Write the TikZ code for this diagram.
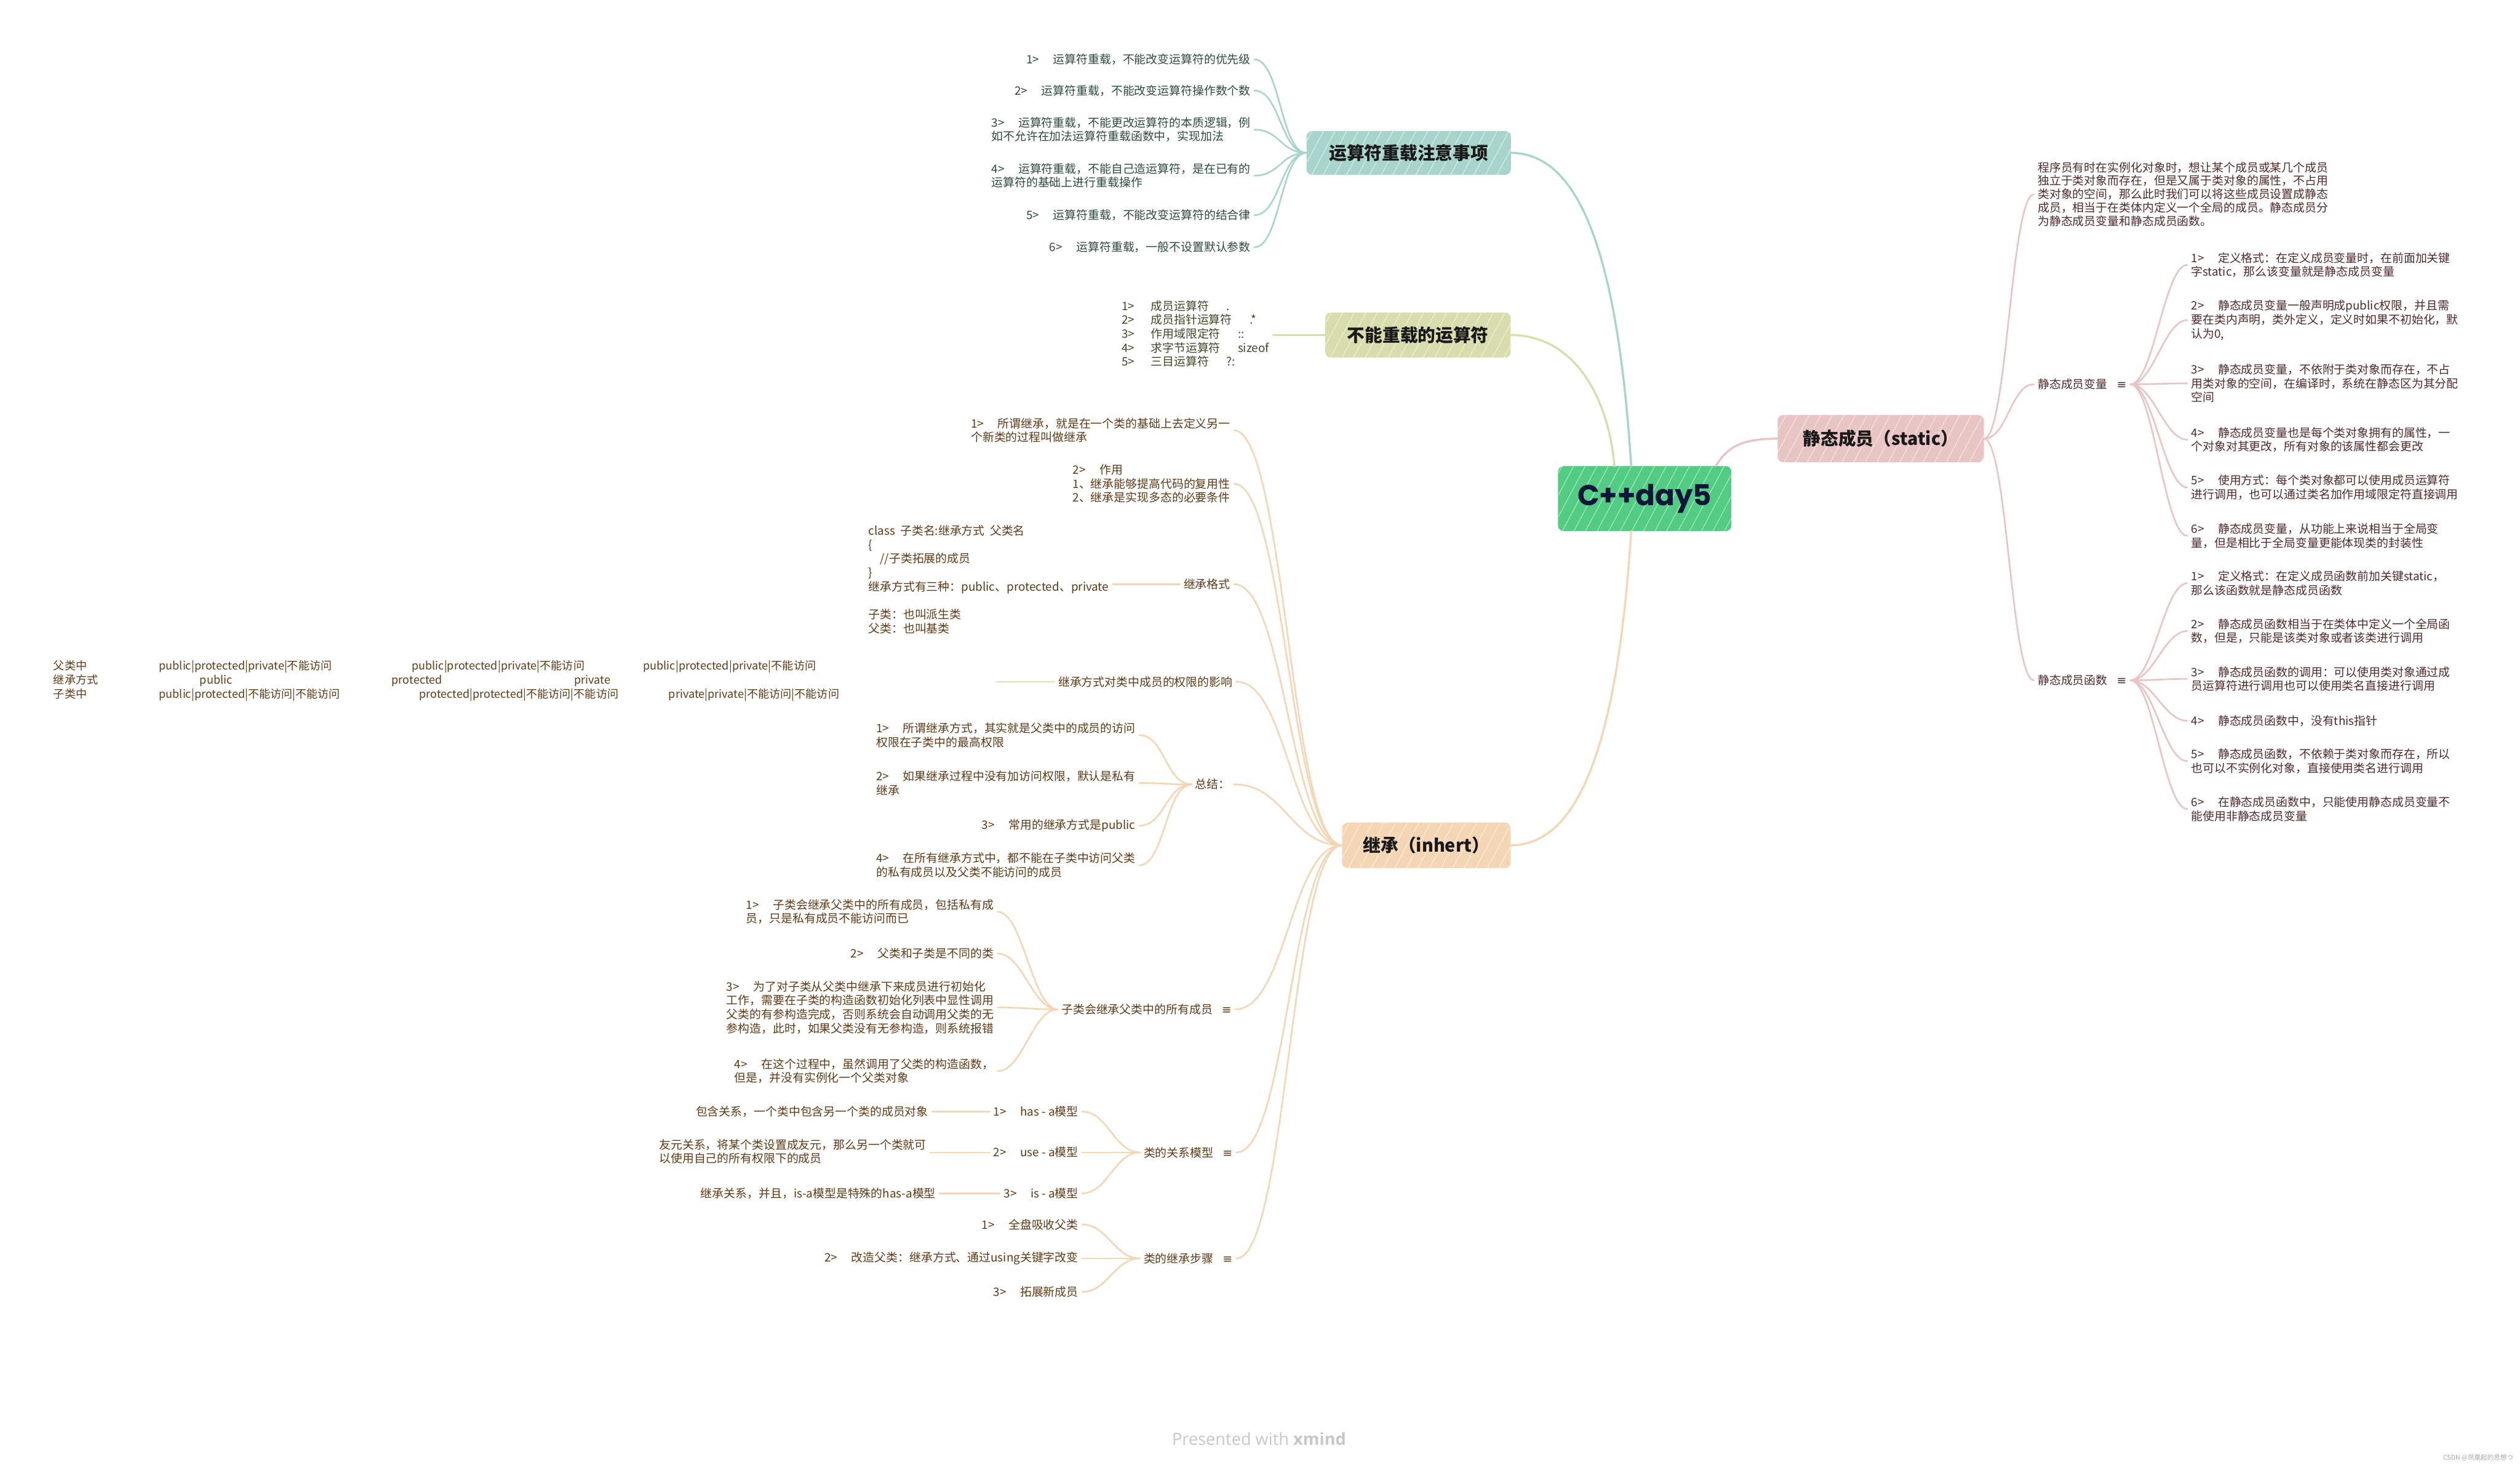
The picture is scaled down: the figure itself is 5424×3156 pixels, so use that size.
\documentclass[tikz,border=0pt]{standalone}
\usepackage{fontspec}
\setmainfont{Noto Sans CJK SC}
\newfontfamily\poppinsfont{Poppins}
\newfontfamily\dejavufont{DejaVu Sans}
\newfontfamily\opensansfont{Open Sans}
\usetikzlibrary{patterns.meta}
\definecolor{tealc}{HTML}{A8D5CB}
\definecolor{tealh}{HTML}{D6ECE7}
\definecolor{olivec}{HTML}{D9DDAE}
\definecolor{oliveh}{HTML}{ECEED6}
\definecolor{pinkc}{HTML}{E8C4C4}
\definecolor{pinkh}{HTML}{F4E1E1}
\definecolor{peachc}{HTML}{F4D5B4}
\definecolor{peachh}{HTML}{FAEBDB}
\definecolor{greenc}{HTML}{52CC83}
\definecolor{greenh}{HTML}{A5E6C0}
\definecolor{tealtxt}{HTML}{2E4A42}
\definecolor{olivetxt}{HTML}{45452A}
\definecolor{pinktxt}{HTML}{4F2A2A}
\definecolor{browntxt}{HTML}{5E3B16}
\definecolor{navytxt}{HTML}{10163A}
\newcommand\lgap{\hspace{1.2em}}
\newcommand\notesym{\hspace{0.8em}{\dejavufont ≡}}
\begin{document}
\begin{tikzpicture}[x=1pt,y=-1pt,
  hatch/.style={postaction={pattern={Lines[angle=62,distance=22pt,line width=1.6pt]},pattern color=#1}},
  topic/.style={rounded corners=12pt,minimum height=96pt,inner sep=0pt,
    font=\fontsize{38}{40}\selectfont\bfseries,text=black!90},
  leafbase/.style={font=\fontsize{25}{30}\selectfont,inner xsep=8pt,inner ysep=2pt,align=left},
  leafT/.style={leafbase,text=tealtxt},
  leafO/.style={leafbase,text=olivetxt},
  leafP/.style={leafbase,text=pinktxt},
  leafB/.style={leafbase,text=browntxt},
  cT/.style={draw=tealc,line width=3.5pt,line cap=round},
  cO/.style={draw=olivec,line width=3.5pt,line cap=round},
  cP/.style={draw=pinkc,line width=3.5pt,line cap=round},
  cB/.style={draw=peachc,line width=3.5pt,line cap=round},
  mainline/.style={line width=4.5pt}]
\useasboundingbox[fill=white] (0,0) rectangle (5424,3156);

% ---------- centre and topics ----------
\node[topic,fill=greenc,hatch=greenh,minimum width=373pt,minimum height=140pt,
  font=\poppinsfont\fontsize{62}{66}\selectfont\bfseries,text=navytxt] (c) at (3540,1073) {C++day5};
\node[topic,fill=tealc,hatch=tealh,minimum width=440pt,minimum height=94pt] (t1) at (3032,329) {运算符重载注意事项};
\node[topic,fill=olivec,hatch=oliveh,minimum width=399pt,minimum height=97pt] (t2) at (3052,721) {不能重载的运算符};
\node[topic,fill=pinkc,hatch=pinkh,minimum width=444pt,minimum height=102pt] (t3) at (4048,944) {静态成员（static）};
\node[topic,fill=peachc,hatch=peachh,minimum width=363pt,minimum height=98pt] (t4) at (3070,1819) {继承（inhert）};

\draw[cT,mainline] (t1.east) .. controls +(170,0) and +(-25,-380) .. ([xshift=-29pt]c.north);
\draw[cO,mainline] (t2.east) .. controls +(130,0) and +(-15,-160) .. ([xshift=-65pt]c.north);
\draw[cP,mainline] ([xshift=153pt]c.north) .. controls +(25,-40) and +(-80,0) .. (t3.west);
\draw[cB,mainline] ([xshift=-29pt]c.south) .. controls +(-25,380) and +(170,0) .. (t4.east);

% ---------- topic 1 ----------
\node[leafT,anchor=east] (a1) at (2700,128) {1>\lgap 运算符重载，不能改变运算符的优先级};
\node[leafT,anchor=east] (a2) at (2700,195) {2>\lgap 运算符重载，不能改变运算符操作数个数};
\node[leafT,anchor=east] (a3) at (2700,279) {3>\lgap 运算符重载，不能更改运算符的本质逻辑，例\\如不允许在加法运算符重载函数中，实现加法};
\node[leafT,anchor=east] (a4) at (2700,378) {4>\lgap 运算符重载，不能自己造运算符，是在已有的\\运算符的基础上进行重载操作};
\node[leafT,anchor=east] (a5) at (2700,463) {5>\lgap 运算符重载，不能改变运算符的结合律};
\node[leafT,anchor=east] (a6) at (2700,532) {6>\lgap 运算符重载，一般不设置默认参数};
\foreach \n in {a1,a2,a3,a4,a5,a6}
  \draw[cT] (\n.east) .. controls +(55,0) and +(-55,0) .. (t1.west);

% ---------- topic 2 ----------
\node[leafO,anchor=east] (b1) at (2740,718) {1>\hspace{1.4em}成员运算符\hspace{1.5em}.\\2>\hspace{1.4em}成员指针运算符\hspace{1.5em}.*\\3>\hspace{1.4em}作用域限定符\hspace{1.5em}::\\4>\hspace{1.4em}求字节运算符\hspace{1.5em}sizeof\\5>\hspace{1.4em}三目运算符\hspace{1.5em}?:};
\draw[cO] (b1.east |- t2.west) -- (t2.west);

% ---------- topic 3 (static) ----------
\node[leafP,anchor=west,font=\fontsize{25}{29}\selectfont] (s0) at (4378,418) {程序员有时在实例化对象时，想让某个成员或某几个成员\\独立于类对象而存在，但是又属于类对象的属性，不占用\\类对象的空间，那么此时我们可以将这些成员设置成静态\\成员，相当于在类体内定义一个全局的成员。静态成员分\\为静态成员变量和静态成员函数。};
\node[leafP,anchor=west] (sv) at (4378,827) {静态成员变量\notesym};
\node[leafP,anchor=west] (sf) at (4378,1464) {静态成员函数\notesym};
\foreach \n in {s0,sv,sf}
  \draw[cP] (t3.east) .. controls +(50,0) and +(-50,0) .. (\n.west);

\node[leafP,anchor=west] (sv1) at (4708,570) {1>\lgap 定义格式：在定义成员变量时，在前面加关键\\字static，那么该变量就是静态成员变量};
\node[leafP,anchor=west] (sv2) at (4708,689) {2>\lgap 静态成员变量一般声明成public权限，并且需\\要在类内声明，类外定义，定义时如果不初始化，默\\认为0,};
\node[leafP,anchor=west] (sv3) at (4708,825) {3>\lgap 静态成员变量，不依附于类对象而存在，不占\\用类对象的空间，在编译时，系统在静态区为其分配\\空间};
\node[leafP,anchor=west] (sv4) at (4708,946) {4>\lgap 静态成员变量也是每个类对象拥有的属性，一\\个对象对其更改，所有对象的该属性都会更改};
\node[leafP,anchor=west] (sv5) at (4708,1049) {5>\lgap 使用方式：每个类对象都可以使用成员运算符\\进行调用，也可以通过类名加作用域限定符直接调用};
\node[leafP,anchor=west] (sv6) at (4708,1153) {6>\lgap 静态成员变量，从功能上来说相当于全局变\\量，但是相比于全局变量更能体现类的封装性};
\foreach \n in {sv1,sv2,sv3,sv4,sv5,sv6}
  \draw[cP] (sv.east) .. controls +(50,0) and +(-50,0) .. (\n.west);

\node[leafP,anchor=west] (sf1) at (4708,1255) {1>\lgap 定义格式：在定义成员函数前加关键static，\\那么该函数就是静态成员函数};
\node[leafP,anchor=west] (sf2) at (4708,1358) {2>\lgap 静态成员函数相当于在类体中定义一个全局函\\数，但是，只能是该类对象或者该类进行调用};
\node[leafP,anchor=west] (sf3) at (4708,1461) {3>\lgap 静态成员函数的调用：可以使用类对象通过成\\员运算符进行调用也可以使用类名直接进行调用};
\node[leafP,anchor=west] (sf4) at (4708,1551) {4>\lgap 静态成员函数中，没有this指针};
\node[leafP,anchor=west] (sf5) at (4708,1638) {5>\lgap 静态成员函数，不依赖于类对象而存在，所以\\也可以不实例化对象，直接使用类名进行调用};
\node[leafP,anchor=west] (sf6) at (4708,1741) {6>\lgap 在静态成员函数中，只能使用静态成员变量不\\能使用非静态成员变量};
\foreach \n in {sf1,sf2,sf3,sf4,sf5,sf6}
  \draw[cP] (sf.east) .. controls +(50,0) and +(-50,0) .. (\n.west);

% ---------- topic 4 (inheritance) ----------
\node[leafB,anchor=east] (i1) at (2656,926) {1>\lgap 所谓继承，就是在一个类的基础上去定义另一\\个新类的过程叫做继承};
\node[leafB,anchor=east] (i2) at (2656,1041) {2>\lgap 作用\\1、继承能够提高代码的复用性\\2、继承是实现多态的必要条件};
\node[leafB,anchor=east] (i3) at (2656,1257) {继承格式};
\node[leafB,anchor=west] (i3c) at (1861,1247) {class\ \ 子类名:继承方式\ \ 父类名\\\{\\\hspace*{1em}//子类拓展的成员\\\}\\继承方式有三种：public、protected、private\\[30pt]子类：也叫派生类\\父类：也叫基类};
\draw[cB] (i3c.east |- i3.west) -- (i3.west);
\node[leafB,anchor=east] (i4) at (2661,1467) {继承方式对类中成员的权限的影响};
\node[leafB,anchor=west,font=\fontsize{24}{30}\selectfont,text width=2022pt] (i4c) at (107,1465)
 {\makebox[227pt][l]{父类中}\makebox[544pt][l]{public|protected|private|不能访问}\makebox[498pt][l]{public|protected|private|不能访问}public|protected|private|不能访问\\
  \makebox[315pt][l]{继承方式}\makebox[413pt][l]{public}\makebox[393pt][l]{protected}private\\
  \makebox[227pt][l]{子类中}\makebox[560pt][l]{public|protected|不能访问|不能访问}\makebox[537pt][l]{protected|protected|不能访问|不能访问}private|private|不能访问|不能访问};
\draw[cB] (i4c.east |- i4.west) -- (i4.west);

\node[leafB,anchor=east] (i5) at (2656,1688) {总结：};
\node[leafB,anchor=east] (i5a) at (2452,1582) {1>\lgap 所谓继承方式，其实就是父类中的成员的访问\\权限在子类中的最高权限};
\node[leafB,anchor=east] (i5b) at (2452,1685) {2>\lgap 如果继承过程中没有加访问权限，默认是私有\\继承};
\node[leafB,anchor=east] (i5c) at (2452,1777) {3>\lgap 常用的继承方式是public};
\node[leafB,anchor=east] (i5d) at (2452,1862) {4>\lgap 在所有继承方式中，都不能在子类中访问父类\\的私有成员以及父类不能访问的成员};
\foreach \n in {i5a,i5b,i5c,i5d}
  \draw[cB] (\n.east) .. controls +(55,0) and +(-55,0) .. (i5.west);

\node[leafB,anchor=east] (i6) at (2659,2172) {子类会继承父类中的所有成员\notesym};
\node[leafB,anchor=east] (i6a) at (2147,1962) {1>\lgap 子类会继承父类中的所有成员，包括私有成\\员，只是私有成员不能访问而已};
\node[leafB,anchor=east] (i6b) at (2147,2052) {2>\lgap 父类和子类是不同的类};
\node[leafB,anchor=east] (i6c) at (2147,2168) {3>\lgap 为了对子类从父类中继承下来成员进行初始化\\工作，需要在子类的构造函数初始化列表中显性调用\\父类的有参构造完成，否则系统会自动调用父类的无\\参构造，此时，如果父类没有无参构造，则系统报错};
\node[leafB,anchor=east] (i6d) at (2147,2305) {4>\lgap 在这个过程中，虽然调用了父类的构造函数，\\但是，并没有实例化一个父类对象};
\foreach \n in {i6a,i6b,i6c,i6d}
  \draw[cB] (\n.east) .. controls +(55,0) and +(-55,0) .. (i6.west);

\node[leafB,anchor=east] (i7) at (2661,2480) {类的关系模型\notesym};
\node[leafB,anchor=east] (i7a) at (2329,2392) {1>\lgap has - a模型};
\node[leafB,anchor=east] (i7b) at (2329,2480) {2>\lgap use - a模型};
\node[leafB,anchor=east] (i7c) at (2329,2568) {3>\lgap is - a模型};
\foreach \n in {i7a,i7b,i7c}
  \draw[cB] (\n.east) .. controls +(55,0) and +(-55,0) .. (i7.west);
\node[leafB,anchor=east] (i7ax) at (2006,2392) {包含关系，一个类中包含另一个类的成员对象};
\node[leafB,anchor=east] (i7bx) at (2002,2478) {友元关系，将某个类设置成友元，那么另一个类就可\\以使用自己的所有权限下的成员};
\node[leafB,anchor=east] (i7cx) at (2022,2568) {继承关系，并且，is-a模型是特殊的has-a模型};
\draw[cB] (i7ax.east) -- (i7a.west);
\draw[cB] (i7bx.east |- i7b.west) -- (i7b.west);
\draw[cB] (i7cx.east) -- (i7c.west);

\node[leafB,anchor=east] (i8) at (2661,2708) {类的继承步骤\notesym};
\node[leafB,anchor=east] (i8a) at (2329,2635) {1>\lgap 全盘吸收父类};
\node[leafB,anchor=east] (i8b) at (2329,2708) {2>\lgap 改造父类：继承方式、通过using关键字改变};
\node[leafB,anchor=east] (i8c) at (2329,2780) {3>\lgap 拓展新成员};
\foreach \n in {i8a,i8b,i8c}
  \draw[cB] (\n.east) .. controls +(55,0) and +(-55,0) .. (i8.west);

\foreach \n in {i1,i2,i3,i4,i5,i6,i7,i8}
  \draw[cB] (\n.east) .. controls +(110,0) and +(-110,0) .. (t4.west);

% ---------- footer ----------
\node[text=black!22,font=\opensansfont\fontsize{36}{40}\selectfont] (foot) at (2710,3096) {Presented with \textbf{xmind}};
\node[text=black!35,font=\fontsize{14}{16}\selectfont,anchor=east] (wm) at (5413,3137) {CSDN @凤凰起的思想つ};
\end{tikzpicture}
\end{document}
